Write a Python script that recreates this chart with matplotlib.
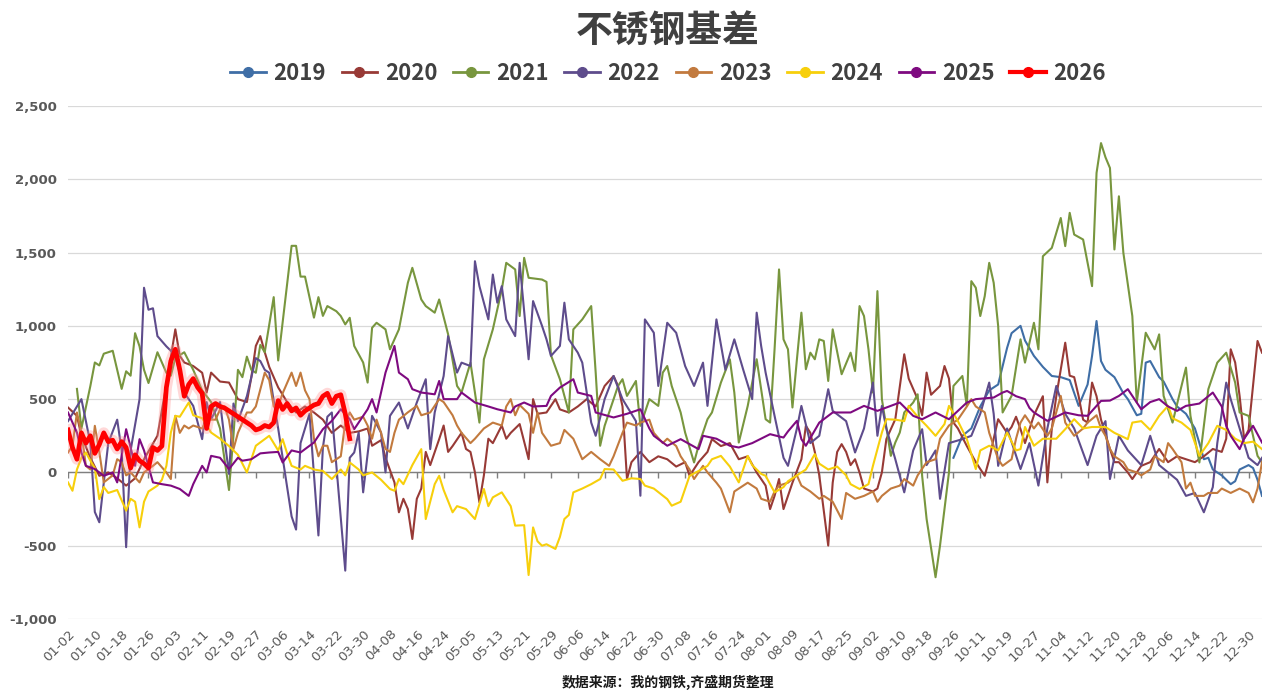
import matplotlib.pyplot as plt
import matplotlib.patheffects as pe
from matplotlib.lines import Line2D
from matplotlib.ticker import FuncFormatter

plt.rcParams['font.family'] = ['Noto Sans CJK SC', 'DejaVu Sans']

# category axis: one slot per trading day, labelled every 6th day
N_DAYS = 268
TICK_LABELS = [
    "01-02", "01-10", "01-18", "01-26", "02-03", "02-11", "02-19", "02-27",
    "03-06", "03-14", "03-22", "03-30", "04-08", "04-16", "04-24", "05-05",
    "05-13", "05-21", "05-29", "06-06", "06-14", "06-22", "06-30", "07-08",
    "07-16", "07-24", "08-01", "08-09", "08-17", "08-25", "09-02", "09-10",
    "09-18", "09-26", "10-11", "10-19", "10-27", "11-04", "11-12", "11-20",
    "11-28", "12-06", "12-14", "12-22", "12-30",
]

YEARS = ["2019", "2020", "2021", "2022", "2023", "2024", "2025", "2026"]
COLORS = ["#3F6EA6", "#983A36", "#78963E", "#5E4C8C", "#C27A3E", "#F7CF0B", "#7E0A80", "#FF0000"]

# (trading-day index, basis value)
s2019 = [(198, 100), (200, 250), (202, 300), (204, 450), (206, 560), (208, 600), (210, 850),
         (211, 950), (213, 1000), (214, 900), (216, 795), (218, 720), (220, 658), (222, 650),
         (224, 630), (226, 454), (228, 600), (229, 795), (230, 1033), (231, 760), (232, 700),
         (234, 650), (236, 540), (237, 500), (239, 390), (240, 400), (241, 749), (242, 760),
         (244, 650), (245, 620), (247, 500), (248, 450), (250, 400), (252, 300), (253, 200),
         (254, 90), (255, 100), (256, 20), (258, -20), (260, -80), (261, -60), (262, 20),
         (264, 50), (265, 30), (266, -50), (267, -160)]

s2020 = [(0, 443), (2, 386), (3, 250), (5, 100), (7, -23), (9, 0), (11, -40), (13, -90), (15, -40),
         (17, 90), (20, 250), (22, 600), (24, 976), (25, 795), (26, 750), (28, 726), (30, 680),
         (31, 545), (32, 681), (34, 620), (36, 613), (38, 500), (40, 480), (41, 650), (42, 863),
         (43, 930), (44, 820), (45, 720), (47, 580), (49, 480), (51, 409), (53, 450), (55, 409),
         (57, 360), (59, 270), (61, 320), (63, 270), (65, 280), (67, 300), (68, 182), (70, 220),
         (71, 100), (73, -68), (74, -272), (75, -180), (76, -250), (77, -454), (78, -180),
         (79, -110), (80, 140), (81, 50), (83, 227), (84, 320), (85, 140), (86, 180), (88, 270),
         (89, 160), (90, 140), (91, 0), (92, -204), (93, -20), (94, 230), (95, 200), (97, 320),
         (98, 230), (99, 270), (101, 330), (103, 91), (104, 500), (105, 400), (107, 409),
         (109, 500), (110, 430), (112, 409), (114, 450), (116, 500), (118, 450), (120, 590),
         (122, 658), (123, 590), (124, 450), (125, -45), (126, 70), (128, 140), (130, 70),
         (132, 110), (134, 90), (136, 40), (138, 70), (139, -23), (141, 70), (143, 140), (144, 227),
         (146, 180), (148, 200), (150, 90), (152, 110), (154, 0), (156, -90), (157, -250),
         (158, -160), (159, -45), (160, -250), (162, -70), (164, 90), (165, 318), (166, 270),
         (167, 140), (168, -20), (170, -499), (171, -70), (172, 140), (173, 193), (174, 140),
         (175, 50), (176, 90), (177, 0), (178, -110), (180, -130), (181, -110), (182, 0),
         (183, 227), (185, 363), (187, 806), (188, 640), (190, 500), (191, 390), (192, 681),
         (193, 530), (195, 590), (196, 726), (197, 640), (198, 340), (199, 300), (201, 180),
         (203, 70), (205, -23), (206, 90), (207, 230), (208, 363), (210, 270), (211, 310),
         (212, 380), (213, 295), (214, 200), (216, 390), (218, 520), (219, -68), (220, 300),
         (221, 520), (223, 885), (224, 660), (225, 650), (226, 520), (227, 360), (228, 340),
         (229, 613), (230, 520), (231, 360), (233, 160), (234, 70), (235, 70), (237, 0),
         (238, -45), (240, 45), (242, 70), (244, 160), (246, 70), (248, 110), (250, 90),
         (252, 70), (254, 110), (256, 160), (258, 140), (259, 230), (260, 840), (261, 750),
         (262, 520), (263, 230), (264, 290), (266, 897), (267, 817)]

s2021 = [(2, 570), (3, 300), (5, 590), (6, 750), (7, 730), (8, 810), (10, 830), (11, 700),
         (12, 570), (13, 690), (14, 660), (15, 950), (16, 860), (17, 700), (18, 610), (20, 820),
         (21, 750), (22, 680), (23, 660), (24, 780), (26, 820), (28, 700), (30, 560), (32, 480),
         (34, 300), (36, -120), (37, 250), (38, 700), (39, 650), (40, 790), (41, 700), (42, 680),
         (43, 870), (44, 820), (46, 1196), (47, 764), (50, 1546), (51, 1546), (52, 1336),
         (53, 1336), (55, 1056), (56, 1196), (57, 1068), (58, 1135), (60, 1100), (61, 1067),
         (62, 1010), (63, 1055), (64, 863), (66, 750), (67, 613), (68, 987), (69, 1021), (71, 976),
         (72, 840), (74, 976), (76, 1294), (77, 1396), (79, 1180), (80, 1135), (82, 1090),
         (83, 1180), (85, 942), (87, 590), (88, 545), (90, 749), (92, 340), (93, 772), (95, 976),
         (97, 1248), (98, 1430), (100, 1385), (101, 1067), (102, 1464), (103, 1328), (106, 1316),
         (107, 1300), (108, 800), (110, 636), (112, 409), (113, 976), (115, 1044), (117, 1135),
         (118, 681), (119, 182), (120, 318), (123, 590), (124, 636), (125, 522), (127, 624),
         (128, 318), (130, 500), (132, 454), (133, 681), (134, 726), (135, 590), (137, 409),
         (138, 272), (140, 68), (141, 182), (143, 363), (144, 409), (146, 613), (148, 772),
         (149, 545), (150, 204), (152, 454), (154, 772), (156, 363), (157, 340), (158, 840),
         (159, 1385), (160, 908), (161, 840), (162, 443), (163, 772), (164, 1090), (165, 704),
         (166, 817), (167, 772), (168, 908), (169, 897), (170, 624), (171, 976), (173, 670),
         (175, 817), (176, 692), (177, 1135), (178, 1067), (179, 840), (180, 545), (181, 1237),
         (182, 500), (184, 113), (185, 204), (186, 272), (187, 409), (189, 477), (190, 533),
         (191, -23), (192, -318), (194, -715), (195, -499), (196, -250), (197, 0), (198, 590),
         (200, 658), (201, 454), (202, 1305), (203, 1260), (204, 1067), (205, 1203), (206, 1430),
         (207, 1294), (208, 999), (209, 409), (211, 522), (213, 908), (214, 749), (216, 1021),
         (217, 840), (218, 1475), (220, 1532), (222, 1736), (223, 1544), (224, 1771), (225, 1623),
         (227, 1589), (229, 1271), (230, 2043), (231, 2247), (232, 2150), (233, 2077), (234, 1521),
         (235, 1884), (236, 1498), (238, 1067), (239, 477), (241, 953), (243, 840), (244, 942),
         (245, 522), (247, 340), (250, 715), (251, 386), (253, 68), (255, 568), (257, 749),
         (259, 817), (261, 613), (262, 409), (264, 386), (266, 113), (267, 68)]

s2022 = [(0, 350), (3, 500), (5, 200), (6, -270), (7, -340), (9, 200), (11, 360), (12, 150),
         (13, -510), (14, 150), (16, 500), (17, 1260), (18, 1110), (19, 1120), (20, 930), (22, 860),
         (24, 800), (26, 545), (28, 454), (30, 227), (31, 480), (32, 363), (34, 480), (35, 227),
         (36, -10), (37, 470), (38, 350), (40, 520), (42, 780), (43, 760), (44, 700), (45, 680),
         (47, 300), (48, 100), (50, -300), (51, -390), (52, 200), (54, 400), (56, -430), (57, 170),
         (58, 380), (59, 409), (62, -670), (63, 100), (64, 136), (65, 272), (66, -136), (68, 386),
         (70, 272), (71, 0), (72, 386), (74, 477), (76, 300), (78, 477), (80, 636), (81, 159),
         (82, 409), (84, 658), (85, 930), (87, 681), (88, 749), (90, 726), (91, 1441), (92, 1271),
         (94, 1044), (95, 1350), (96, 1158), (97, 1271), (98, 1044), (100, 930), (101, 1430),
         (103, 772), (104, 1169), (106, 1000), (107, 908), (108, 795), (110, 863), (111, 1158),
         (112, 908), (114, 817), (115, 749), (117, 340), (118, 250), (120, 500), (122, 658),
         (124, 500), (127, 350), (128, -159), (129, 1044), (131, 953), (132, 590), (134, 1021),
         (136, 953), (138, 726), (140, 590), (142, 749), (143, 454), (145, 1044), (147, 700),
         (149, 908), (151, 700), (153, 500), (154, 1090), (155, 863), (156, 681), (158, 386),
         (160, 100), (161, 45), (163, 300), (164, 454), (166, 200), (168, 250), (170, 568),
         (171, 420), (174, 350), (176, 136), (178, 300), (180, 613), (181, 250), (182, 454),
         (183, 300), (185, 90), (187, -136), (189, 150), (191, 295), (192, 50), (194, 150),
         (195, -180), (197, 200), (200, 227), (202, 250), (204, 400), (206, 613), (207, 400),
         (208, 45), (210, 300), (213, 23), (215, 200), (217, -90), (219, 300), (221, 590),
         (223, 400), (225, 300), (228, 50), (230, 250), (232, 350), (233, -45), (235, 250),
         (237, 150), (240, 50), (242, 250), (244, 50), (246, 0), (248, -50), (250, -160),
         (252, -140), (254, -272), (256, -100), (257, 200), (259, 613), (260, 500), (262, 300),
         (264, 100), (266, 50), (267, 100)]

s2023 = [(0, 136), (1, 180), (2, 409), (3, 270), (4, 45), (5, 20), (6, 318), (7, 140), (8, -68),
         (10, -20), (11, 90), (12, 70), (13, -20), (14, 0), (16, -68), (17, 0), (19, 45), (20, 70),
         (22, 0), (23, -45), (24, 386), (25, 270), (26, 320), (27, 300), (28, 320), (30, 300),
         (31, 360), (33, 360), (34, 430), (35, 450), (36, 360), (37, 159), (38, 270), (40, 409),
         (41, 409), (42, 450), (44, 681), (45, 630), (46, 450), (47, 450), (48, 540), (50, 681),
         (51, 590), (52, 681), (53, 560), (54, 500), (55, 230), (56, 110), (57, 182), (58, 182),
         (59, 70), (61, 110), (62, 340), (63, 409), (64, 360), (66, 380), (67, 320), (68, 230),
         (69, 360), (70, 270), (71, 160), (72, 140), (73, 270), (74, 360), (76, 410), (78, 454),
         (79, 390), (81, 409), (83, 500), (84, 480), (86, 390), (87, 320), (88, 270), (90, 200),
         (91, 230), (93, 300), (95, 340), (97, 320), (98, 450), (99, 500), (100, 390), (101, 460),
         (103, 400), (104, 270), (105, 409), (106, 270), (108, 182), (110, 200), (111, 290),
         (113, 230), (115, 90), (117, 140), (119, 90), (121, 45), (122, 110), (124, 270), (125, 340),
         (127, 320), (128, 340), (130, 360), (131, 270), (133, 200), (134, 230), (136, 180),
         (137, 110), (139, 20), (140, -45), (142, 45), (143, 0), (145, -70), (146, -110),
         (148, -272), (149, -130), (151, -90), (152, -70), (154, -110), (155, -180), (157, -200),
         (158, -130), (159, -90), (161, -70), (163, -20), (164, -90), (166, -130), (168, -180),
         (169, -160), (171, -200), (173, -318), (174, -140), (176, -180), (178, -160), (180, -130),
         (181, -200), (182, -160), (184, -110), (186, -90), (187, -45), (189, -90), (190, -20),
         (192, 70), (194, 90), (195, 230), (197, 320), (199, 360), (201, 450), (202, 500),
         (203, 450), (205, 410), (206, 270), (208, 90), (209, 45), (211, 90), (212, 230), (213, 340),
         (214, 390), (216, 300), (217, 340), (219, 250), (220, 300), (222, 522), (223, 340),
         (225, 250), (227, 300), (228, 340), (230, 390), (231, 300), (232, 250), (233, 160),
         (234, 110), (236, 70), (237, 20), (239, 0), (240, -20), (242, 20), (243, 110), (245, 70),
         (246, 200), (247, 160), (249, 70), (250, -110), (251, -70), (252, -160), (254, -160),
         (255, -140), (257, -140), (258, -110), (260, -140), (262, -110), (264, -140), (265, -204),
         (266, -110), (267, 70)]

s2024 = [(0, -68), (1, -125), (2, 20), (3, 100), (4, 136), (5, 80), (6, 30), (7, -182), (8, -100),
         (9, -140), (11, -120), (13, -261), (14, -180), (15, -200), (16, -375), (17, -200),
         (18, -130), (20, -90), (21, -50), (22, 45), (23, 272), (24, 386), (25, 380), (27, 477),
         (28, 390), (30, 370), (32, 272), (34, 230), (36, 180), (38, 120), (40, 0), (42, 182),
         (45, 250), (47, 150), (48, 227), (49, 130), (50, 45), (52, 20), (53, 45), (55, 20),
         (57, 10), (59, -45), (61, 20), (62, -20), (63, 68), (65, 20), (66, -20), (68, 0), (70, -50),
         (72, -113), (73, -125), (74, -45), (75, -80), (77, 50), (79, 159), (80, -318), (81, -200),
         (82, -80), (83, -23), (84, -120), (86, -272), (87, -230), (89, -250), (91, -318),
         (93, -113), (94, -230), (95, -170), (97, -136), (99, -230), (100, -363), (102, -360),
         (103, -700), (104, -375), (105, -470), (106, -500), (107, -490), (109, -522), (110, -440),
         (111, -318), (112, -290), (113, -136), (115, -110), (117, -80), (119, -45), (120, 23),
         (122, 20), (124, -57), (126, -40), (128, -45), (129, -90), (131, -110), (134, -182),
         (135, -227), (137, -200), (139, -23), (141, 10), (143, 45), (144, 90), (146, 113), (148, 40),
         (150, -68), (152, 113), (153, 50), (155, -10), (156, -23), (158, -136), (160, -100),
         (161, -60), (163, -20), (165, 20), (167, 125), (168, 60), (170, 20), (172, 40), (174, -20),
         (175, -80), (177, -113), (179, -80), (180, 45), (182, 272), (183, 363), (185, 360),
         (187, 350), (188, 454), (190, 380), (192, 318), (194, 250), (196, 330), (197, 454),
         (199, 350), (201, 227), (203, 23), (204, 150), (206, 182), (208, 150), (210, 272),
         (212, 150), (213, 159), (214, 310), (216, 182), (218, 230), (221, 230), (223, 295),
         (225, 363), (227, 300), (229, 310), (232, 310), (234, 270), (237, 227), (238, 340),
         (240, 350), (242, 290), (244, 386), (246, 454), (247, 370), (249, 340), (251, 290),
         (253, 113), (255, 200), (257, 318), (259, 290), (261, 230), (263, 200), (265, 210),
         (267, 159)]

s2025 = [(0, 409), (1, 340), (2, 272), (3, 136), (4, 45), (6, 23), (8, -23), (10, 0), (11, -68),
         (13, 295), (15, 45), (16, 227), (17, 150), (19, -68), (21, -80), (23, -90), (25, -113),
         (27, -160), (28, -80), (30, 45), (31, 0), (32, 113), (34, 100), (36, 23), (38, 100),
         (39, 80), (41, 90), (43, 130), (45, 136), (47, 140), (48, 68), (50, 150), (52, 136),
         (53, 159), (55, 204), (57, 295), (59, 352), (61, 431), (63, 363), (64, 295), (67, 431),
         (68, 500), (69, 409), (71, 681), (73, 863), (74, 681), (76, 636), (77, 568), (79, 545),
         (82, 533), (83, 624), (84, 500), (87, 500), (88, 545), (90, 500), (91, 477), (94, 450),
         (96, 431), (99, 409), (100, 450), (102, 477), (104, 450), (107, 454), (108, 522),
         (110, 579), (113, 636), (114, 545), (117, 522), (118, 409), (122, 375), (125, 400),
         (128, 431), (130, 300), (131, 250), (134, 182), (137, 227), (141, 159), (142, 250),
         (145, 230), (148, 182), (150, 170), (153, 200), (157, 261), (160, 238), (161, 280),
         (163, 352), (164, 227), (165, 182), (168, 340), (171, 409), (175, 409), (178, 454),
         (181, 420), (184, 454), (186, 477), (189, 386), (191, 363), (194, 409), (197, 363),
         (201, 477), (203, 500), (207, 511), (209, 545), (210, 556), (212, 520), (214, 500),
         (215, 440), (216, 409), (219, 352), (221, 380), (223, 409), (226, 390), (228, 386),
         (231, 488), (233, 490), (235, 522), (237, 568), (240, 431), (242, 480), (244, 500),
         (246, 450), (248, 420), (250, 454), (253, 470), (256, 545), (258, 450), (259, 318),
         (260, 250), (262, 159), (263, 230), (265, 318), (267, 204)]

s2026 = [(0, 290), (1, 170), (2, 90), (3, 270), (4, 200), (5, 250), (6, 130), (7, 190), (8, 270),
         (9, 210), (10, 220), (11, 160), (12, 210), (13, 170), (14, 30), (15, 120), (16, 80),
         (17, 60), (18, 30), (19, 170), (20, 150), (21, 180), (22, 580), (23, 760), (24, 840),
         (25, 700), (26, 520), (27, 600), (28, 640), (29, 580), (30, 540), (31, 300), (32, 450),
         (33, 470), (34, 450), (35, 440), (36, 420), (37, 400), (38, 380), (39, 360), (40, 340),
         (41, 320), (42, 290), (43, 300), (44, 320), (45, 310), (46, 340), (47, 490), (48, 430),
         (49, 470), (50, 420), (51, 440), (52, 390), (53, 420), (54, 440), (55, 460), (56, 470),
         (57, 520), (58, 540), (59, 470), (60, 520), (61, 530), (62, 400), (63, 230)]

SERIES = [s2019, s2020, s2021, s2022, s2023, s2024, s2025, s2026]

W, H = 1263, 691
fig = plt.figure(figsize=(W / 100, H / 100), dpi=100)
ax = fig.add_axes([68 / W, 1 - 619 / H, (1262 - 68) / W, (619 - 106) / H])

for year, color, pts in zip(YEARS, COLORS, SERIES):
    xs = [p[0] for p in pts]
    ys = [p[1] for p in pts]
    if year == "2026":
        ax.plot(xs, ys, color=color, linewidth=3.4, zorder=5, solid_joinstyle="round",
                path_effects=[pe.Stroke(linewidth=8, foreground="#ff9090", alpha=0.35), pe.Normal()])
    else:
        ax.plot(xs, ys, color=color, linewidth=1.5, zorder=3)

ax.set_xlim(0, N_DAYS - 1)
ax.set_ylim(-1000, 2500)
ax.set_yticks(range(-1000, 2501, 500))
ax.yaxis.set_major_formatter(FuncFormatter(lambda v, p: f"{int(v):,}"))
ax.grid(axis="y", color="#D9D9D9", linewidth=0.9)
ax.set_axisbelow(True)
for s in ax.spines.values():
    s.set_visible(False)

tick_pos = list(range(0, N_DAYS, 6))[:len(TICK_LABELS)]
ax.set_xticks(tick_pos)
ax.set_xticklabels(TICK_LABELS, rotation=45, ha="right", rotation_mode="anchor",
                   fontsize=9.5, color="#595959", family="DejaVu Sans")
ax.tick_params(axis="x", length=0, pad=6)
ax.tick_params(axis="y", length=0, pad=8)
for lab in ax.get_yticklabels():
    lab.set_fontsize(9.5)
    lab.set_color("#595959")
    lab.set_fontweight("bold")
    lab.set_family("DejaVu Sans")

ax.axhline(0, color="#7F7F7F", linewidth=1.0, zorder=2)
ax.vlines(tick_pos, -35, 0, color="#7F7F7F", linewidth=1.0, zorder=2)

fig.text(668 / W, 1 - 31 / H, "不锈钢基差", ha="center", va="center",
         fontsize=26.5, fontweight="bold", color="#404040")

handles = [Line2D([0], [0], color=c, marker="o", markersize=7,
                  linewidth=3.0 if y == "2026" else 2.0) for y, c in zip(YEARS, COLORS)]
leg = fig.legend(handles, YEARS, loc="center", bbox_to_anchor=(668 / W, 1 - 73 / H), ncol=8,
                 frameon=False, handlelength=1.6, handletextpad=0.35, columnspacing=0.7,
                 prop={"size": 16, "weight": "bold"})
for t in leg.get_texts():
    t.set_color("#404040")

fig.text(668 / W, 1 - 682 / H, "数据来源：我的钢铁,齐盛期货整理", ha="center", va="center",
         fontsize=10, fontweight="bold", color="#1A1A1A")

fig.savefig("out.png", dpi=100)
